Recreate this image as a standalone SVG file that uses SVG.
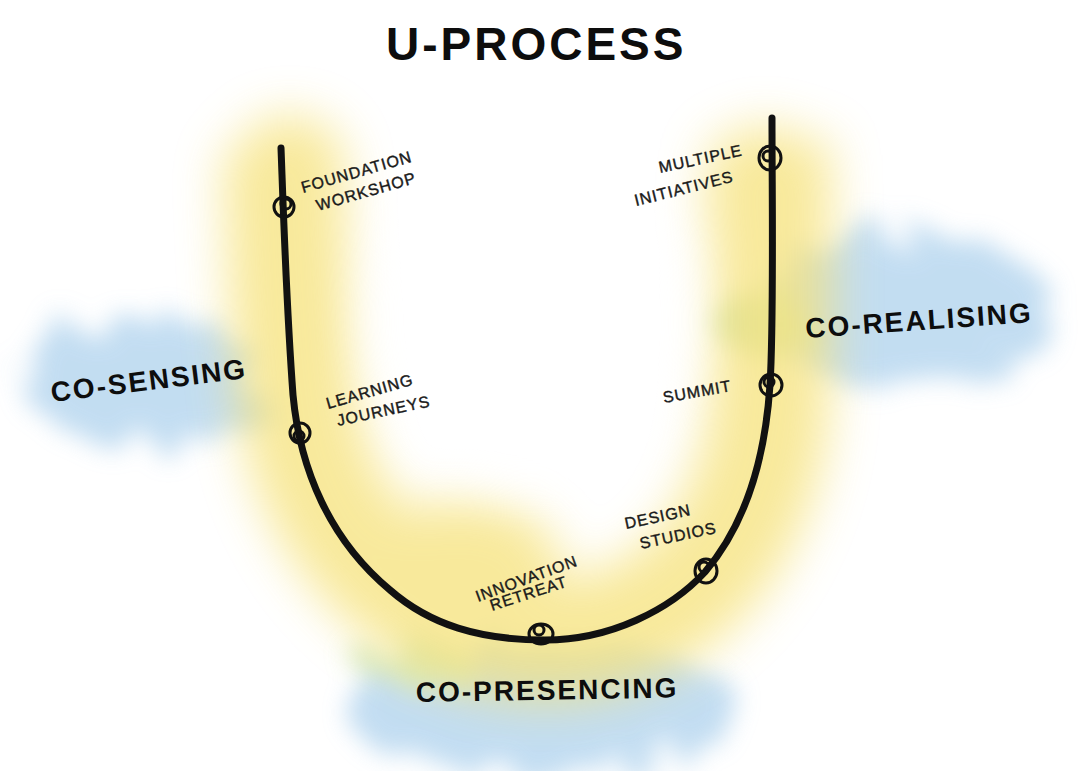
<svg xmlns="http://www.w3.org/2000/svg" width="1078" height="771" viewBox="0 0 1078 771">
  <defs>
    <filter id="wash" x="-50%" y="-50%" width="200%" height="200%">
      <feGaussianBlur stdDeviation="24"/>
    </filter>
    <filter id="washSoft" x="-50%" y="-50%" width="200%" height="200%">
      <feTurbulence type="fractalNoise" baseFrequency="0.025" numOctaves="3" seed="7" result="n"/>
      <feDisplacementMap in="SourceGraphic" in2="n" scale="60" result="d"/>
      <feGaussianBlur in="d" stdDeviation="12"/>
    </filter>
    <style>
      .u { fill: none; stroke: #111; stroke-width: 7; stroke-linecap: round; stroke-linejoin: round; }
      .knot { fill: none; stroke: #111; stroke-width: 3; }
      .lbl { font-family: "Liberation Sans Narrow", "Liberation Sans", sans-serif; font-size: 16px; fill: #1a1a1a; letter-spacing: 1px; stroke: #1a1a1a; stroke-width: 0.4; }
      .phase { font-family: "Liberation Sans", sans-serif; font-weight: bold; font-size: 28px; fill: #0d0d0d; letter-spacing: 2px; }
      .title { font-family: "Liberation Sans", sans-serif; font-weight: bold; font-size: 46px; fill: #0d0d0d; letter-spacing: 3px; }
    </style>
  </defs>

  <rect width="1078" height="771" fill="#ffffff"/>

  <!-- watercolour washes -->
  <g id="washes">
    <g filter="url(#washSoft)" opacity="0.7">
      <ellipse cx="145" cy="380" rx="125" ry="65" fill="#a9cfec"/>
      <ellipse cx="905" cy="310" rx="150" ry="75" fill="#a9cfec"/>
      <ellipse cx="545" cy="710" rx="200" ry="65" fill="#a9cfec"/>
      <ellipse cx="760" cy="320" rx="45" ry="35" fill="#b9dca8"/>
      <ellipse cx="420" cy="665" rx="60" ry="25" fill="#c4e0a8"/>
    </g>
    <g filter="url(#wash)" opacity="0.75">
      <path d="M283 150 C287 260 292 380 305 440 C335 560 440 640 545 640 C650 640 740 570 765 440 C775 380 772 250 770 140" fill="none" stroke="#f6e27a" stroke-width="120"/>
      <ellipse cx="290" cy="165" rx="55" ry="50" fill="#f6e27a"/>
      <ellipse cx="765" cy="200" rx="60" ry="75" fill="#f6e27a"/>
      <ellipse cx="460" cy="560" rx="100" ry="60" fill="#f6e27a"/>
    </g>
    <ellipse cx="530" cy="320" rx="160" ry="165" fill="#ffffff" filter="url(#wash)" opacity="0.8"/>
  </g>

  <!-- the U curve -->
  <g id="connectors">
    <path class="u" d="M281 148 C283 200 286 300 293 395 C300 470 330 540 390 590 C430 625 480 640 545 640 C610 640 670 610 705 572 C745 525 765 460 770 385 C774 320 772 200 772 118"/>
  </g>

  <!-- stations along the curve -->
  <g id="n-foundation">
    <circle class="knot" cx="284" cy="207" r="10"/>
    <circle class="knot" cx="286" cy="204" r="5"/>
    <text class="lbl" transform="translate(303 193) rotate(-16)">FOUNDATION</text>
    <text class="lbl" transform="translate(318 211) rotate(-16)">WORKSHOP</text>
  </g>
  <g id="n-learning">
    <circle class="knot" cx="300" cy="433" r="10"/>
    <circle class="knot" cx="299" cy="436" r="5"/>
    <text class="lbl" transform="translate(328 409) rotate(-16)">LEARNING</text>
    <text class="lbl" transform="translate(338 426) rotate(-12)">JOURNEYS</text>
  </g>
  <g id="n-innovation">
    <ellipse class="knot" cx="541" cy="634" rx="12" ry="10"/>
    <circle class="knot" cx="539" cy="630" r="5"/>
    <text class="lbl" transform="translate(478 602) rotate(-20)">INNOVATION</text>
    <text class="lbl" transform="translate(492 611) rotate(-18)">RETREAT</text>
  </g>
  <g id="n-design">
    <ellipse class="knot" cx="706" cy="571" rx="11" ry="12"/>
    <circle class="knot" cx="704" cy="567" r="5"/>
    <text class="lbl" transform="translate(626 529) rotate(-12)">DESIGN</text>
    <text class="lbl" transform="translate(641 549) rotate(-12)">STUDIOS</text>
  </g>
  <g id="n-summit">
    <circle class="knot" cx="771" cy="385" r="11"/>
    <circle class="knot" cx="769" cy="382" r="5"/>
    <text class="lbl" transform="translate(664 403) rotate(-10)">SUMMIT</text>
  </g>
  <g id="n-multiple">
    <ellipse class="knot" cx="770" cy="158" rx="11" ry="12"/>
    <circle class="knot" cx="768" cy="156" r="5"/>
    <text class="lbl" transform="translate(660 173) rotate(-12)">MULTIPLE</text>
    <text class="lbl" transform="translate(636 206) rotate(-14)">INITIATIVES</text>
  </g>

  <!-- phase names -->
  <g id="phases">
    <text class="phase" transform="translate(52 402) rotate(-7)">CO-SENSING</text>
    <text class="phase" transform="translate(806 338) rotate(-4)">CO-REALISING</text>
    <text class="phase" transform="translate(416 702) rotate(-1)">CO-PRESENCING</text>
  </g>

  <text class="title" x="386" y="60">U-PROCESS</text>
</svg>
